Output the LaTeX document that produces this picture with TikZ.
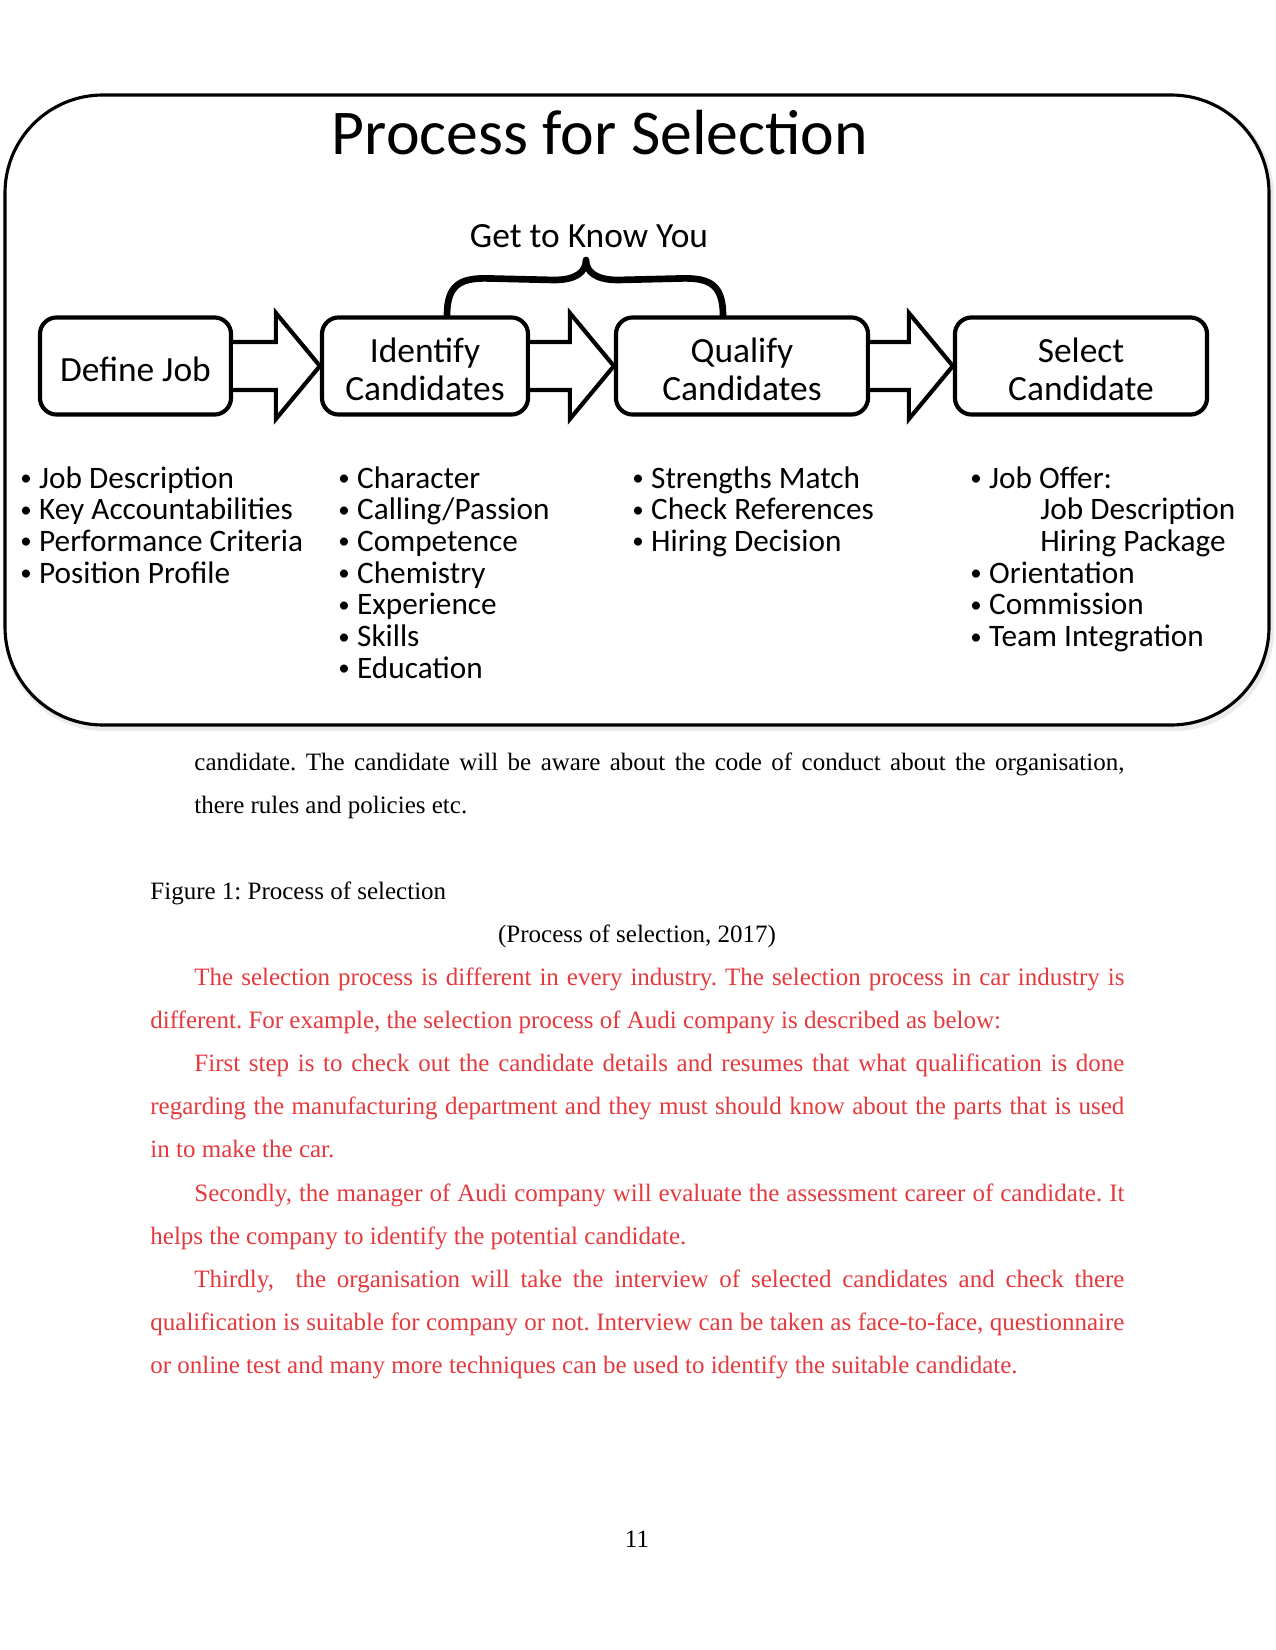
\documentclass[tikz,border=0pt]{standalone}
\usepackage{fontspec}
\setmainfont{Liberation Serif}
\newfontfamily\calibri{Carlito}
\usetikzlibrary{calc}
\frenchspacing

\definecolor{redtext}{RGB}{228,58,62}

\newcommand{\fullline}[1]{\makebox[467.5pt][s]{#1}}
\newcommand{\indline}[1]{\makebox[446.4pt][s]{#1}}
\newcommand{\bul}{\makebox[9pt][l]{\raisebox{1.2pt}{\fontsize{11}{11}\selectfont •}}}
\newcommand{\up}{\rule{0pt}{15.2pt}}

\begin{document}
\begin{tikzpicture}[x=0.48pt, y=-0.48pt,
	stepbox/.style={draw, line width=2pt, rounded corners=8pt, fill=white, minimum height=46.6pt, align=center, inner sep=0pt, font=\calibri\fontsize{17}{18.2}\selectfont},
	blockarrow/.style={draw, line width=2pt, fill=white, line join=miter},
	brace/.style={line width=3.2pt, line cap=round, line join=round},
	item/.style={anchor=base west, inner sep=0pt, font=\calibri\fontsize{15}{15.2}\selectfont},
	body/.style={anchor=base west, inner sep=0pt, font=\fontsize{12}{14}\selectfont},
]
	\fill[white] (0,0) rectangle (1275,1650);
	\useasboundingbox (0,0) rectangle (1275,1650);

	% frame with a soft shadow
	\draw[black!8, line width=3pt, rounded corners=47pt] (7,98) rectangle (1271,728);
	\draw[line width=1.5pt, fill=white, rounded corners=47pt] (5,95) rectangle (1269,725);

	\node[anchor=base, inner sep=0pt, font=\calibri\fontsize{30.6}{31}\selectfont] (title) at (600,155) {Process for Selection};

	% the four steps
	\node[stepbox, minimum width=91.7pt] (define) at (135.5,366) {\up Define Job};
	\node[stepbox, minimum width=98.9pt] (ident) at (425,366) {\up Identify\\Candidates};
	\node[stepbox, minimum width=121pt] (qual) at (742,366) {\up Qualify\\Candidates};
	\node[stepbox, minimum width=121pt] (select) at (1081,366) {\up Select\\Candidate};

	\newcommand{\bigarrow}[2]{
		\draw[blockarrow] ($(#1.east)+(0,-24)$) -- ($(#2.west)+(-44,-24)$) -- ($(#2.west)+(-44,-53)$)
			-- (#2.west) -- ($(#2.west)+(-44,53)$) -- ($(#2.west)+(-44,24)$) -- ($(#1.east)+(0,24)$);
	}
	\bigarrow{define}{ident}
	\bigarrow{ident}{qual}
	\bigarrow{qual}{select}

	% brace over the middle steps
	\node[anchor=base, inner sep=0pt, font=\calibri\fontsize{17}{17}\selectfont] (gtk) at (589,248) {Get to Know You};
	\coordinate (bl) at ($(ident.north)+(22,0)$);
	\coordinate (br) at ($(qual.north)+(-19,0)$);
	\coordinate (tip) at (586,260);
	\draw[brace] (bl) .. controls +(0,-30) and +(-25,0) .. ($(bl)+(38,-37)$)
		-- ($(tip)+(-32,20)$) .. controls +(22,0) and +(0,12) .. (tip)
		.. controls +(0,12) and +(-22,0) .. ($(tip)+(32,20)$)
		-- ($(br)+(-38,-37)$) .. controls +(25,0) and +(0,-30) .. (br);

	% lists under the steps
	\foreach \t [count=\i from 0] in {Job Description, Key Accountabilities, Performance Criteria, Position Profile}
		\node[item] (job\i) at (20,488+31.7*\i) {\bul\t};
	\foreach \t [count=\i from 0] in {Character, Calling/Passion, Competence, Chemistry, Experience, Skills, Education}
		\node[item] (cand\i) at (338,488+31.7*\i) {\bul\t};
	\foreach \t [count=\i from 0] in {Strengths Match, Check References, Hiring Decision}
		\node[item] (qual\i) at (632,488+31.7*\i) {\bul\t};
	\node[item] (sel0) at (970,488) {\bul Job Offer:};
	\node[item] (sel1) at (1040,519.7) {Job Description};
	\node[item] (sel2) at (1040,551.4) {Hiring Package};
	\node[item] (sel3) at (970,583.1) {\bul Orientation};
	\node[item] (sel4) at (970,614.8) {\bul Commission};
	\node[item] (sel5) at (970,646.5) {\bul Team Integration};

	% page text
	\node[body] (l1) at (194,770) {\indline{candidate. The candidate will be aware about the code of conduct about the organisation,}};
	\node[body] (l2) at (194,813.1) {there rules and policies etc.};
	\node[body] (fig) at (150,899.3) {Figure 1: Process of selection};
	\node[body, anchor=base] (src) at (637,942.4) {(Process of selection, 2017)};
	\begin{scope}[redtext]
	\node[body] (r1) at (194,985.5) {\indline{The selection process is different in every industry. The selection process in car industry is}};
	\node[body] (r2) at (150,1028.6) {different. For example, the selection process of Audi company is described as below:};
	\node[body] (r3) at (194,1071.7) {\indline{First step is to check out the candidate details and resumes that what qualification is done}};
	\node[body] (r4) at (150,1114.8) {\fullline{regarding the manufacturing department and they must should know about the parts that is used}};
	\node[body] (r5) at (150,1157.9) {in to make the car.};
	\node[body] (r6) at (194,1201) {\indline{Secondly, the manager of Audi company will evaluate the assessment career of candidate. It}};
	\node[body] (r7) at (150,1244.1) {helps the company to identify the potential candidate.};
	\node[body] (r8) at (194,1287.2) {\indline{Thirdly,\ \ the organisation will take the interview of selected candidates and check there}};
	\node[body] (r9) at (150,1330.3) {\fullline{qualification is suitable for company or not. Interview can be taken as face-to-face, questionnaire}};
	\node[body] (r10) at (150,1373.4) {or online test and many more techniques can be used to identify the suitable candidate.};
	\end{scope}
	\node[body, anchor=base] (pagenum) at (637,1547) {11};
\end{tikzpicture}
\end{document}
